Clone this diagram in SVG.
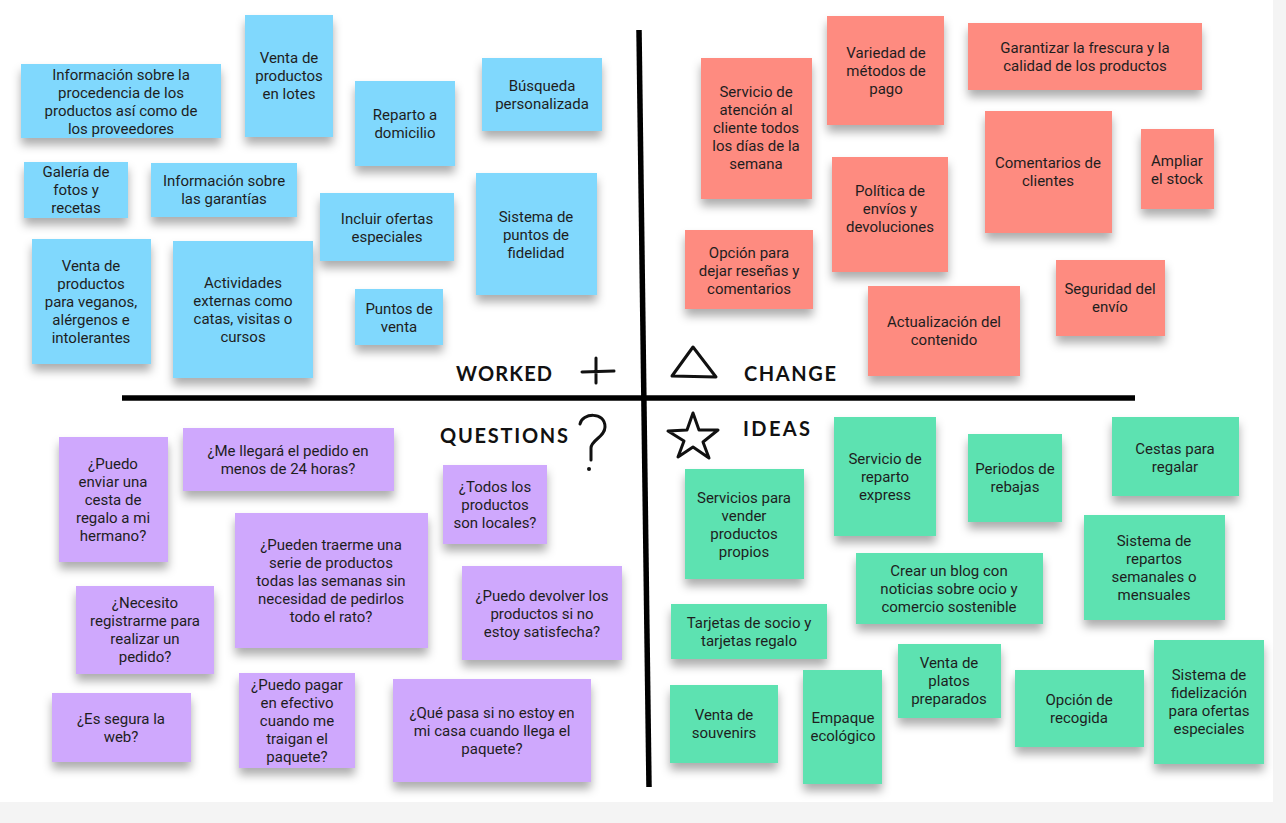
<svg xmlns="http://www.w3.org/2000/svg" width="1286" height="823" viewBox="0 0 1286 823">
<style>
.t{font-family:Roboto,"Liberation Sans",sans-serif;font-size:15px;fill:#1e1e1e;text-anchor:middle}
.b{fill:#80d8fd}
.r{fill:#fe8b80}
.g{fill:#5de2b1}
.p{fill:#cfa8fd}
.note{filter:url(#sh)}
.h{font-family:Lato,"Open Sans",sans-serif;font-size:20px;font-weight:700;fill:#111}
.ic{fill:none;stroke:#111;stroke-width:3;stroke-linecap:round;stroke-linejoin:round}
.ln{stroke:#000;stroke-width:5.5;stroke-linecap:butt}
</style>
<defs>
<filter id="sh" x="-20%" y="-20%" width="140%" height="160%">
<feDropShadow dx="0" dy="7" stdDeviation="5" flood-color="#000" flood-opacity="0.32"/>
</filter>
</defs>
<rect x="0" y="0" width="1286" height="823" fill="#f4f4f4"/>
<rect x="0" y="0" width="1273" height="802" fill="#ffffff"/>

<g id="dividers">
<line class="ln" x1="122" y1="398" x2="1135" y2="398"/>
<line class="ln" x1="639" y1="30" x2="649" y2="787"/>
</g>

<g id="labels">
<text class="h" x="456" y="381" textLength="96" lengthAdjust="spacing">WORKED</text>
<path class="ic" d="M582 372 L614 371 M596 358 L596 383"/>
<text class="h" x="744" y="381" textLength="92" lengthAdjust="spacing">CHANGE</text>
<path class="ic" d="M693 347 L672 376 L716 377 Z"/>
<text class="h" x="440" y="443" textLength="128" lengthAdjust="spacing">QUESTIONS</text>
<path class="ic" d="M580 424 C582 413 605 411 605 427 C605 437 591 440 591 448 L591 460"/>
<circle cx="589" cy="469" r="2" fill="#111"/>
<text class="h" x="743" y="436" textLength="67" lengthAdjust="spacing">IDEAS</text>
<path class="ic" d="M693 413 L699 430 L718 430 L703 442 L709 458 L693 447 L678 457 L684 441 L668 431 L687 430 Z"/>
</g>

<g id="worked-notes">
<g id="w1"><rect class="b note" x="21" y="64" width="200" height="74"/><text class="t"><tspan x="121" y="80">Información sobre la</tspan><tspan x="121" y="98">procedencia de los</tspan><tspan x="121" y="116">productos así como de</tspan><tspan x="121" y="134">los proveedores</tspan></text></g>
<g id="w2"><rect class="b note" x="245" y="15" width="88" height="122"/><text class="t"><tspan x="289" y="63">Venta de</tspan><tspan x="289" y="81">productos</tspan><tspan x="289" y="99">en lotes</tspan></text></g>
<g id="w3"><rect class="b note" x="24" y="162" width="104" height="56"/><text class="t"><tspan x="76" y="177">Galería de</tspan><tspan x="76" y="195">fotos y</tspan><tspan x="76" y="213">recetas</tspan></text></g>
<g id="w4"><rect class="b note" x="151" y="163" width="146" height="54"/><text class="t"><tspan x="224" y="186">Información sobre</tspan><tspan x="224" y="204">las garantías</tspan></text></g>
<g id="w5"><rect class="b note" x="32" y="239" width="119" height="125"/><text class="t"><tspan x="91" y="271">Venta de</tspan><tspan x="91" y="289">productos</tspan><tspan x="91" y="307">para veganos,</tspan><tspan x="91" y="325">alérgenos e</tspan><tspan x="91" y="343">intolerantes</tspan></text></g>
<g id="w6"><rect class="b note" x="173" y="241" width="140" height="137"/><text class="t"><tspan x="243" y="288">Actividades</tspan><tspan x="243" y="306">externas como</tspan><tspan x="243" y="324">catas, visitas o</tspan><tspan x="243" y="342">cursos</tspan></text></g>
<g id="w7"><rect class="b note" x="355" y="81" width="100" height="85"/><text class="t"><tspan x="405" y="120">Reparto a</tspan><tspan x="405" y="138">domicilio</tspan></text></g>
<g id="w8"><rect class="b note" x="482" y="58" width="120" height="73"/><text class="t"><tspan x="542" y="91">Búsqueda</tspan><tspan x="542" y="109">personalizada</tspan></text></g>
<g id="w9"><rect class="b note" x="320" y="193" width="134" height="68"/><text class="t"><tspan x="387" y="224">Incluir ofertas</tspan><tspan x="387" y="242">especiales</tspan></text></g>
<g id="w10"><rect class="b note" x="476" y="173" width="121" height="122"/><text class="t"><tspan x="536" y="222">Sistema de</tspan><tspan x="536" y="240">puntos de</tspan><tspan x="536" y="258">fidelidad</tspan></text></g>
<g id="w11"><rect class="b note" x="355" y="289" width="88" height="56"/><text class="t"><tspan x="399" y="314">Puntos de</tspan><tspan x="399" y="332">venta</tspan></text></g>
</g>

<g id="change-notes">
<g id="c1"><rect class="r note" x="701" y="58" width="111" height="141"/><text class="t"><tspan x="756" y="97">Servicio de</tspan><tspan x="756" y="115">atención al</tspan><tspan x="756" y="133">cliente todos</tspan><tspan x="756" y="151">los días de la</tspan><tspan x="756" y="169">semana</tspan></text></g>
<g id="c2"><rect class="r note" x="827" y="16" width="117" height="109"/><text class="t"><tspan x="886" y="58">Variedad de</tspan><tspan x="886" y="76">métodos de</tspan><tspan x="886" y="94">pago</tspan></text></g>
<g id="c3"><rect class="r note" x="968" y="23" width="234" height="67"/><text class="t"><tspan x="1085" y="53">Garantizar la frescura y la</tspan><tspan x="1085" y="71">calidad de los productos</tspan></text></g>
<g id="c4"><rect class="r note" x="985" y="111" width="127" height="122"/><text class="t"><tspan x="1048" y="168">Comentarios de</tspan><tspan x="1048" y="186">clientes</tspan></text></g>
<g id="c5"><rect class="r note" x="1141" y="129" width="73" height="80"/><text class="t"><tspan x="1177" y="166">Ampliar</tspan><tspan x="1177" y="184">el stock</tspan></text></g>
<g id="c6"><rect class="r note" x="832" y="157" width="116" height="115"/><text class="t"><tspan x="890" y="196">Política de</tspan><tspan x="890" y="214">envíos y</tspan><tspan x="890" y="232">devoluciones</tspan></text></g>
<g id="c7"><rect class="r note" x="685" y="230" width="128" height="79"/><text class="t"><tspan x="749" y="258">Opción para</tspan><tspan x="749" y="276">dejar reseñas y</tspan><tspan x="749" y="294">comentarios</tspan></text></g>
<g id="c8"><rect class="r note" x="868" y="286" width="152" height="90"/><text class="t"><tspan x="944" y="327">Actualización del</tspan><tspan x="944" y="345">contenido</tspan></text></g>
<g id="c9"><rect class="r note" x="1056" y="260" width="109" height="76"/><text class="t"><tspan x="1110" y="294">Seguridad del</tspan><tspan x="1110" y="312">envío</tspan></text></g>
</g>

<g id="question-notes">
<g id="q1"><rect class="p note" x="59" y="437" width="109" height="125"/><text class="t"><tspan x="113" y="469">¿Puedo</tspan><tspan x="113" y="487">enviar una</tspan><tspan x="113" y="505">cesta de</tspan><tspan x="113" y="523">regalo a mi</tspan><tspan x="113" y="541">hermano?</tspan></text></g>
<g id="q2"><rect class="p note" x="183" y="428" width="211" height="63"/><text class="t"><tspan x="288" y="456">¿Me llegará el pedido en</tspan><tspan x="288" y="474">menos de 24 horas?</tspan></text></g>
<g id="q3"><rect class="p note" x="235" y="513" width="193" height="135"/><text class="t"><tspan x="331" y="550">¿Pueden traerme una</tspan><tspan x="331" y="568">serie de productos</tspan><tspan x="331" y="586">todas las semanas sin</tspan><tspan x="331" y="604">necesidad de pedirlos</tspan><tspan x="331" y="622">todo el rato?</tspan></text></g>
<g id="q4"><rect class="p note" x="76" y="586" width="138" height="88"/><text class="t"><tspan x="145" y="608">¿Necesito</tspan><tspan x="145" y="626">registrarme para</tspan><tspan x="145" y="644">realizar un</tspan><tspan x="145" y="662">pedido?</tspan></text></g>
<g id="q5"><rect class="p note" x="52" y="693" width="139" height="69"/><text class="t"><tspan x="121" y="724">¿Es segura la</tspan><tspan x="121" y="742">web?</tspan></text></g>
<g id="q6"><rect class="p note" x="239" y="673" width="116" height="95"/><text class="t"><tspan x="297" y="690">¿Puedo pagar</tspan><tspan x="297" y="708">en efectivo</tspan><tspan x="297" y="726">cuando me</tspan><tspan x="297" y="744">traigan el</tspan><tspan x="297" y="762">paquete?</tspan></text></g>
<g id="q7"><rect class="p note" x="443" y="465" width="104" height="79"/><text class="t"><tspan x="495" y="492">¿Todos los</tspan><tspan x="495" y="510">productos</tspan><tspan x="495" y="528">son locales?</tspan></text></g>
<g id="q8"><rect class="p note" x="462" y="566" width="160" height="94"/><text class="t"><tspan x="542" y="601">¿Puedo devolver los</tspan><tspan x="542" y="619">productos si no</tspan><tspan x="542" y="637">estoy satisfecha?</tspan></text></g>
<g id="q9"><rect class="p note" x="393" y="679" width="198" height="103"/><text class="t"><tspan x="492" y="718">¿Qué pasa si no estoy en</tspan><tspan x="492" y="736">mi casa cuando llega el</tspan><tspan x="492" y="754">paquete?</tspan></text></g>
</g>

<g id="idea-notes">
<g id="i1"><rect class="g note" x="685" y="469" width="119" height="110"/><text class="t"><tspan x="744" y="503">Servicios para</tspan><tspan x="744" y="521">vender</tspan><tspan x="744" y="539">productos</tspan><tspan x="744" y="557">propios</tspan></text></g>
<g id="i2"><rect class="g note" x="834" y="417" width="102" height="119"/><text class="t"><tspan x="885" y="464">Servicio de</tspan><tspan x="885" y="482">reparto</tspan><tspan x="885" y="500">express</tspan></text></g>
<g id="i3"><rect class="g note" x="968" y="434" width="94" height="88"/><text class="t"><tspan x="1015" y="474">Periodos de</tspan><tspan x="1015" y="492">rebajas</tspan></text></g>
<g id="i4"><rect class="g note" x="1112" y="417" width="127" height="79"/><text class="t"><tspan x="1175" y="454">Cestas para</tspan><tspan x="1175" y="472">regalar</tspan></text></g>
<g id="i5"><rect class="g note" x="856" y="553" width="187" height="71"/><text class="t"><tspan x="949" y="576">Crear un blog con</tspan><tspan x="949" y="594">noticias sobre ocio y</tspan><tspan x="949" y="612">comercio sostenible</tspan></text></g>
<g id="i6"><rect class="g note" x="1084" y="515" width="141" height="105"/><text class="t"><tspan x="1154" y="546">Sistema de</tspan><tspan x="1154" y="564">repartos</tspan><tspan x="1154" y="582">semanales o</tspan><tspan x="1154" y="600">mensuales</tspan></text></g>
<g id="i7"><rect class="g note" x="671" y="604" width="156" height="55"/><text class="t"><tspan x="749" y="628">Tarjetas de socio y</tspan><tspan x="749" y="646">tarjetas regalo</tspan></text></g>
<g id="i8"><rect class="g note" x="670" y="685" width="108" height="78"/><text class="t"><tspan x="724" y="720">Venta de</tspan><tspan x="724" y="738">souvenirs</tspan></text></g>
<g id="i9"><rect class="g note" x="803" y="670" width="79" height="114"/><text class="t"><tspan x="843" y="723">Empaque</tspan><tspan x="843" y="741">ecológico</tspan></text></g>
<g id="i10"><rect class="g note" x="898" y="644" width="103" height="74"/><text class="t"><tspan x="949" y="668">Venta de</tspan><tspan x="949" y="686">platos</tspan><tspan x="949" y="704">preparados</tspan></text></g>
<g id="i11"><rect class="g note" x="1015" y="670" width="129" height="77"/><text class="t"><tspan x="1079" y="705">Opción de</tspan><tspan x="1079" y="723">recogida</tspan></text></g>
<g id="i12"><rect class="g note" x="1154" y="640" width="110" height="124"/><text class="t"><tspan x="1209" y="680">Sistema de</tspan><tspan x="1209" y="698">fidelización</tspan><tspan x="1209" y="716">para ofertas</tspan><tspan x="1209" y="734">especiales</tspan></text></g>
</g>
</svg>
